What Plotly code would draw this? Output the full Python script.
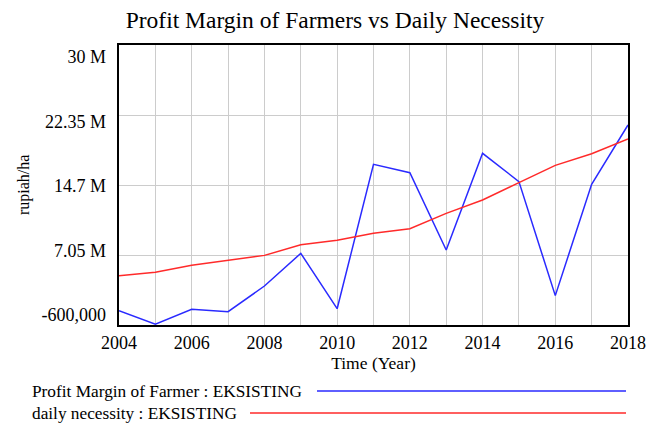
import plotly.graph_objects as go

years = list(range(2004, 2019))
profit_margin = [0.96e6, -0.5e6, 1.11e6, 0.86e6, 3.66e6, 7.23e6, 1.18e6, 16.96e6,
                 16.05e6, 7.6e6, 18.16e6, 15.07e6, 2.61e6, 14.78e6, 21.26e6]
daily_necessity = [4.79e6, 5.16e6, 5.92e6, 6.5e6, 7.01e6, 8.18e6, 8.65e6, 9.42e6,
                   9.93e6, 11.6e6, 13.06e6, 14.96e6, 16.85e6, 18.12e6, 19.73e6]
y_tickvals = [-600000, 7.05e6, 14.7e6, 22.35e6, 30e6]
y_ticktext = ["-600,000", "7.05 M", "14.7 M", "22.35 M", "30 M"]
x_tickvals = list(range(2004, 2019, 2))

FONT = "Liberation Serif, Times New Roman, serif"
BLUE = "#2a2aff"
RED = "#ff2a2a"

W, H = 647, 423
L, T = 119, 45
R = W - 628
B = H - 325
pw, ph = W - L - R, H - T - B


def px2paper(x, y):
    return (x - L) / pw, (H - B - y) / ph


fig = go.Figure()
fig.add_trace(go.Scatter(x=years, y=profit_margin, mode="lines",
                         line=dict(color=BLUE, width=1.5),
                         name="Profit Margin of Farmer : EKSISTING", showlegend=False))
fig.add_trace(go.Scatter(x=years, y=daily_necessity, mode="lines",
                         line=dict(color=RED, width=1.5),
                         name="daily necessity : EKSISTING", showlegend=False))
# invisible trace to carry the tick-label axis (labels are spread like the reference)
fig.add_trace(go.Scatter(x=years, y=daily_necessity, mode="lines", yaxis="y2",
                         line=dict(color="rgba(0,0,0,0)", width=0),
                         hoverinfo="skip", showlegend=False))

# label axis: labels spaced 64.5px apart, centred 1px below the grid centre
step_px = 64.5
span = ph / step_px * 7.65e6
centre = 14.7e6 + 1 / step_px * 7.65e6
y2_range = [centre - span / 2, centre + span / 2]

fig.update_layout(
    width=W, height=H,
    margin=dict(l=L, r=R, t=T, b=B, autoexpand=False),
    paper_bgcolor="white", plot_bgcolor="white",
    font=dict(family=FONT, size=17.3, color="black"),
    title=dict(text="Profit Margin of Farmers vs Daily Necessity",
               x=335 / W, xanchor="center", y=1 - 20 / H, yanchor="middle",
               pad=dict(t=0, b=0, l=0, r=0),
               font=dict(family=FONT, size=23.5, color="black")),
    xaxis=dict(range=[2004, 2018], tickvals=x_tickvals, ticks="", automargin=False,
               tickfont=dict(size=18),
               showgrid=True, gridcolor="#cccccc", gridwidth=1,
               minor=dict(dtick=1, showgrid=True, gridcolor="#cccccc", gridwidth=1),
               showline=True, linecolor="black", linewidth=2, mirror=True,
               zeroline=False,
               title=dict(text="Time (Year)", standoff=2,
                          font=dict(family=FONT, size=17.5))),
    yaxis=dict(range=[-600000, 30e6], tickvals=y_tickvals, showticklabels=False,
               automargin=False,
               ticks="", showgrid=True, gridcolor="#cccccc", gridwidth=1,
               showline=True, linecolor="black", linewidth=2, mirror=True,
               zeroline=False),
    yaxis2=dict(range=y2_range, overlaying="y", side="left", tickvals=y_tickvals,
                ticktext=y_ticktext, ticks="", showgrid=False, zeroline=False,
                automargin=False,
                showline=False, tickfont=dict(size=18), ticklabelstandoff=12),
)

# y axis title
yx, yy = px2paper(24, 185)
fig.add_annotation(text="rupiah/ha", x=yx, y=yy, xref="paper", yref="paper",
                   xanchor="center", yanchor="middle", textangle=-90, showarrow=False,
                   font=dict(family=FONT, size=16, color="black"))

legend_items = [
    ("Profit Margin of Farmer : EKSISTING", BLUE, 391, 317),
    ("daily necessity : EKSISTING", RED, 413, 250),
]
for text, color, py, lx in legend_items:
    tx, ty = px2paper(30, py)
    fig.add_annotation(text=text, x=tx, y=ty, xref="paper", yref="paper",
                       xanchor="left", yanchor="middle", showarrow=False,
                       font=dict(family=FONT, size=17.3, color="black"))
    x0, y0 = px2paper(lx, py)
    x1, _ = px2paper(626, py)
    fig.add_shape(type="line", xref="paper", yref="paper", x0=x0, x1=x1, y0=y0, y1=y0,
                  line=dict(color=color, width=1.5))

fig.write_html("out.html", config={"displayModeBar": False},
               post_script="document.body.style.margin='0px';document.body.style.overflow='hidden';")
